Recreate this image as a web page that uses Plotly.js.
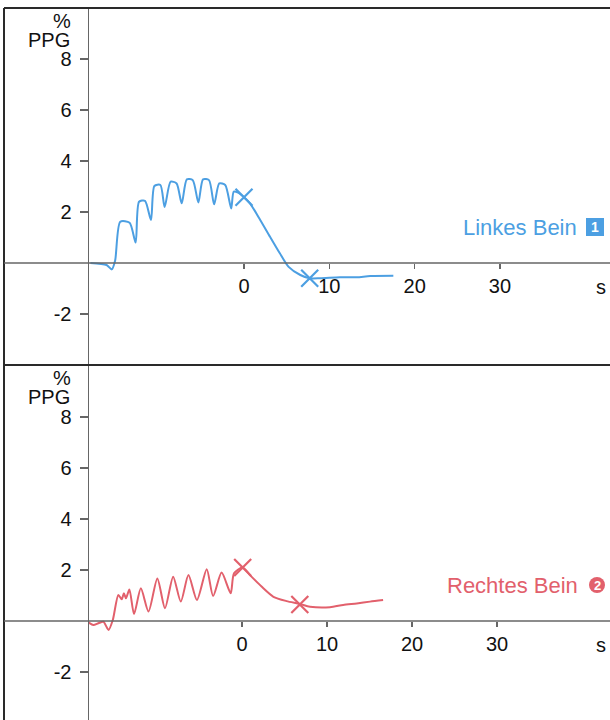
<!DOCTYPE html>
<html>
<head>
<meta charset="utf-8">
<script src="https://cdn.plot.ly/plotly-3.0.1.min.js"></script>
<style>html,body{margin:0;padding:0;background:#fff;}#chart{width:610px;height:720px;}</style>
</head>
<body>
<div id="chart"></div>
<script>
// ---- Data ----
const leftTime = [-18.0,-16.1,-15.5,-15.1,-14.5,-13.4,-12.7,-12.3,-11.6,-10.9,-10.5,-9.8,-9.3,-8.6,-7.9,-7.3,-6.7,-6.0,-5.35,-4.8,-4.1,-3.5,-2.9,-2.2,-1.5,-1.2,-0.7,0.0,0.7,1.9,3.05,4.2,5.2,6.6,7.7,8.9,11.25,13.2,14.8,17.5];
const leftPPG  = [0.0,-0.08,-0.25,0.1,1.62,1.58,0.8,2.4,2.44,1.69,3.02,3.06,2.2,3.19,3.12,2.34,3.28,3.25,2.37,3.28,3.25,2.3,3.12,3.06,2.14,2.8,2.76,2.58,2.34,1.69,1.03,0.38,-0.14,-0.47,-0.6,-0.6,-0.56,-0.56,-0.51,-0.5];
const leftMarkT = [0.0, 7.7];
const leftMarkV = [2.58, -0.6];

const rightTime = [-18.3,-17.5,-16.9,-16.3,-15.7,-15.2,-14.55,-14.15,-13.9,-13.65,-13.25,-12.7,-11.9,-11.0,-9.96,-9.06,-8.1,-7.2,-6.3,-5.3,-4.15,-3.4,-2.4,-1.33,-0.94,0.08,0.94,2.3,3.7,5.25,6.8,8.0,10.35,11.9,13.5,15.06,16.6];
const rightPPG  = [0.0,-0.16,-0.09,-0.03,-0.35,0.04,1.02,0.85,1.09,0.89,1.24,0.27,1.28,0.37,1.67,0.5,1.74,0.76,1.8,0.82,2.03,0.98,1.9,1.09,1.87,2.1,1.8,1.35,0.95,0.78,0.67,0.56,0.54,0.63,0.69,0.76,0.82];
const rightMarkT = [0.08, 6.8];
const rightMarkV = [2.1, 0.65];

const yTickVals = [-2, 2, 4, 6, 8];
const yTickText = ["-2", "2", "4", "6", "8"];
const xTickVals = [0, 10, 20, 30];
const xTickText = ["0", "10", "20", "30"];
const legendLeft = "Linkes Bein";
const legendRight = "Rechtes Bein";
const unitX = "s";
const unitY1 = "%";
const unitY2 = "PPG";

// ---- Styling ----
const W = 610, H = 720;
const px = v => v / W;
const py = v => (H - v) / H;
const BLUE = '#4c9fe2';
const RED = '#e2606c';
const FONT = 'Liberation Sans, Arial, sans-serif';
const TXT = '#111';

const traces = [
  {x: leftTime, y: leftPPG, xaxis: 'x', yaxis: 'y', mode: 'lines', line: {color: BLUE, width: 2, shape: 'spline', smoothing: 0.7}},
  {x: leftMarkT, y: leftMarkV, xaxis: 'x', yaxis: 'y', mode: 'markers',
   marker: {symbol: 'x-thin', size: 17, line: {color: BLUE, width: 2.2}}},
  {x: rightTime, y: rightPPG, xaxis: 'x2', yaxis: 'y2', mode: 'lines', line: {color: RED, width: 2, shape: 'spline', smoothing: 0.7}},
  {x: rightMarkT, y: rightMarkV, xaxis: 'x2', yaxis: 'y2', mode: 'markers',
   marker: {symbol: 'x-thin', size: 17, line: {color: RED, width: 2.2}}}
];

const yCommon = {
  tickvals: yTickVals, ticktext: yTickText, ticks: 'outside', ticklen: 8, tickcolor: '#666', tickwidth: 1.2,
  showline: true, linecolor: '#666', linewidth: 1.5, showgrid: false, zeroline: false,
  tickfont: {family: FONT, size: 20, color: TXT}, ticklabelstandoff: 4, fixedrange: true
};
const xCommon = {
  tickvals: xTickVals, ticktext: xTickText, ticks: 'outside', ticklen: 5, tickcolor: '#666', tickwidth: 1.2,
  showline: false, showgrid: false, zeroline: false, anchor: 'free',
  tickfont: {family: FONT, size: 20, color: TXT}, ticklabelstandoff: 0, fixedrange: true
};

const layout = {
  width: W, height: H, margin: {l: 0, r: 0, t: 0, b: 0},
  paper_bgcolor: '#fff', plot_bgcolor: 'rgba(0,0,0,0)', showlegend: false,
  xaxis: Object.assign({}, xCommon, {domain: [px(89), 1], range: [(89-244)/8.533, (610-244)/8.533], position: py(263)}),
  xaxis2: Object.assign({}, xCommon, {domain: [px(89), 1], range: [(89-242)/8.5, (610-242)/8.5], position: py(621)}),
  yaxis: Object.assign({}, yCommon, {anchor: 'x', domain: [py(365), py(8)], range: [(263-365)/25.5, (263-8)/25.5]}),
  yaxis2: Object.assign({}, yCommon, {anchor: 'x2', domain: [0, py(365)], range: [(621-720)/25.5, (621-365)/25.5]}),
  shapes: [
    {type: 'line', xref: 'paper', yref: 'paper', x0: px(4), x1: px(4), y0: 0, y1: py(8), line: {color: '#2a2a2a', width: 2}},
    {type: 'line', xref: 'paper', yref: 'paper', x0: px(4), x1: 1, y0: py(8), y1: py(8), line: {color: '#2a2a2a', width: 2}},
    {type: 'line', xref: 'paper', yref: 'paper', x0: px(4), x1: 1, y0: py(365), y1: py(365), line: {color: '#2a2a2a', width: 2}},
    {type: 'line', xref: 'paper', yref: 'paper', x0: px(4), x1: 1, y0: py(263), y1: py(263), line: {color: '#666', width: 1.5}},
    {type: 'line', xref: 'paper', yref: 'paper', x0: px(4), x1: 1, y0: py(621), y1: py(621), line: {color: '#666', width: 1.5}},
    {type: 'rect', xref: 'paper', yref: 'paper', x0: px(586), x1: px(604), y0: py(236), y1: py(218), fillcolor: BLUE, line: {width: 0}},
    {type: 'circle', xref: 'paper', yref: 'paper', x0: px(589), x1: px(605), y0: py(593), y1: py(577), fillcolor: RED, line: {width: 0}}
  ],
  annotations: [
    {xref: 'paper', yref: 'paper', x: px(62), y: py(21), text: unitY1, showarrow: false, xanchor: 'center', yanchor: 'middle', font: {family: FONT, size: 20, color: TXT}},
    {xref: 'paper', yref: 'paper', x: px(72), y: py(40), text: unitY2, showarrow: false, xanchor: 'right', yanchor: 'middle', font: {family: FONT, size: 20, color: TXT}},
    {xref: 'paper', yref: 'paper', x: px(62), y: py(378), text: unitY1, showarrow: false, xanchor: 'center', yanchor: 'middle', font: {family: FONT, size: 20, color: TXT}},
    {xref: 'paper', yref: 'paper', x: px(72), y: py(397), text: unitY2, showarrow: false, xanchor: 'right', yanchor: 'middle', font: {family: FONT, size: 20, color: TXT}},
    {xref: 'paper', yref: 'paper', x: px(601), y: py(287), text: unitX, showarrow: false, xanchor: 'center', yanchor: 'middle', font: {family: FONT, size: 20, color: TXT}},
    {xref: 'paper', yref: 'paper', x: px(601), y: py(645), text: unitX, showarrow: false, xanchor: 'center', yanchor: 'middle', font: {family: FONT, size: 20, color: TXT}},
    {xref: 'paper', yref: 'paper', x: px(579), y: py(227), text: legendLeft, showarrow: false, xanchor: 'right', yanchor: 'middle', font: {family: FONT, size: 22, color: BLUE}},
    {xref: 'paper', yref: 'paper', x: px(595), y: py(227), text: '<b>1</b>', showarrow: false, xanchor: 'center', yanchor: 'middle', font: {family: FONT, size: 14, color: '#fff'}},
    {xref: 'paper', yref: 'paper', x: px(580), y: py(585), text: legendRight, showarrow: false, xanchor: 'right', yanchor: 'middle', font: {family: FONT, size: 22, color: RED}},
    {xref: 'paper', yref: 'paper', x: px(597), y: py(585), text: '<b>2</b>', showarrow: false, xanchor: 'center', yanchor: 'middle', font: {family: FONT, size: 13, color: '#fff'}}
  ]
};

Plotly.newPlot('chart', traces, layout, {staticPlot: true, displayModeBar: false});
</script>
</body>
</html>
